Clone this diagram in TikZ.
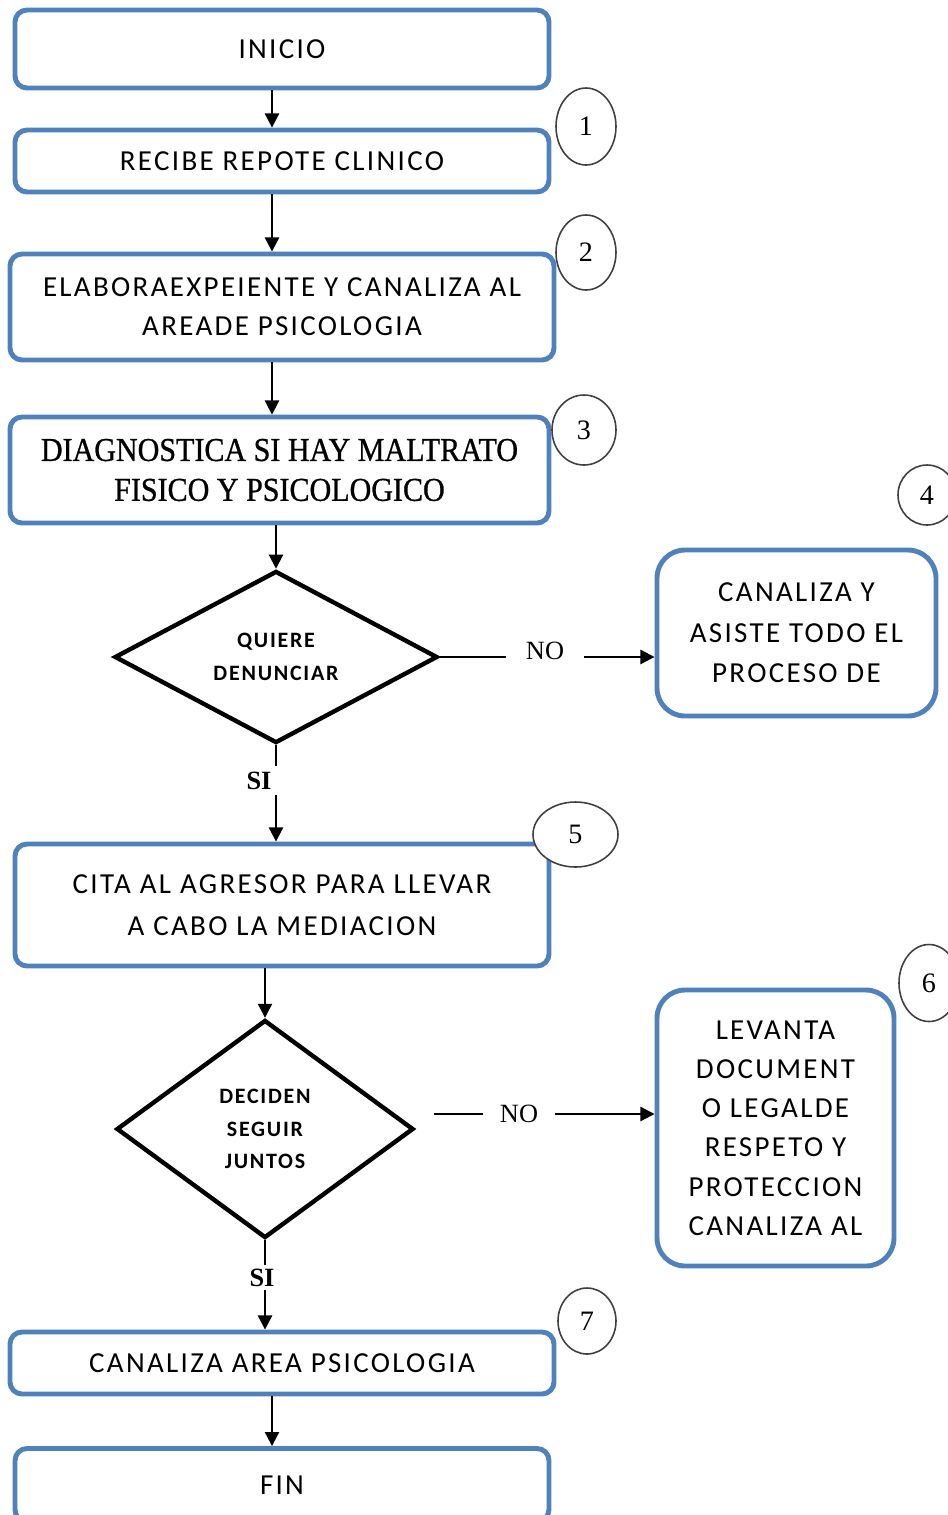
\documentclass[tikz,border=0pt]{standalone}
\usepackage{fontspec}
\setmainfont{Carlito}
\newfontfamily\boxfont[LetterSpace=8]{Carlito}
\newfontfamily\serfont{Liberation Serif}
\newfontfamily\diagfont[FakeStretch=0.9,FakeBold=0.8]{Liberation Serif}
\usepackage{tikz}
\usetikzlibrary{arrows.meta,shapes.geometric}
\definecolor{boxblue}{RGB}{79,129,189}
\definecolor{numgray}{RGB}{64,64,64}

\begin{document}
\begin{tikzpicture}[>={Triangle[length=8pt,width=8pt]}]
  \tikzstyle{box}=[draw=boxblue,line width=2.8pt,rounded corners=0.24cm,fill=white,align=center,inner sep=0pt,font={\boxfont\fontsize{16.5}{22}\selectfont}]
  \tikzstyle{tallbox}=[box,rounded corners=0.56cm]
  \tikzstyle{choice}=[draw,diamond,line width=2.5pt,align=center,inner sep=0pt,font={\boxfont\bfseries\fontsize{12.5}{18.5}\selectfont}]
  \tikzstyle{num}=[draw=numgray,fill=white,ellipse,line width=0.9pt,inner sep=0pt,font={\serfont\fontsize{16}{16}\selectfont}]
  \tikzstyle{lbl}=[inner xsep=0.4cm,inner ysep=0pt,font={\serfont\fontsize{15}{15}\selectfont}]
  \tikzstyle{arr}=[->,line width=1.2pt]
  \tikzstyle{ln}=[line width=1.2pt]
  \useasboundingbox (0,0) rectangle (18.96,-30.30);
  \clip (0,0) rectangle (18.96,-30.30);
  % main column
  \node[box,minimum width=10.68cm,minimum height=1.56cm] (inicio) at (5.64,-0.98) {INICIO};
  \node[box,minimum width=10.68cm,minimum height=1.24cm] (recibe) at (5.64,-3.22) {RECIBE REPOTE CLINICO};
  \node[box,minimum width=10.88cm,minimum height=2.12cm] (elabora) at (5.64,-6.14) {ELABORAEXPEIENTE Y CANALIZA AL\\AREADE PSICOLOGIA};
  \node[box,minimum width=10.78cm,minimum height=2.12cm,font={\diagfont\fontsize{19}{22.7}\selectfont}] (diag) at (5.59,-9.40) {DIAGNOSTICA SI HAY MALTRATO\\FISICO Y PSICOLOGICO};
  \node[choice,minimum width=6.46cm,minimum height=3.18cm] (q) at (5.52,-13.14) {QUIERE\\DENUNCIAR};
  \node[tallbox,minimum width=5.58cm,minimum height=3.32cm,font={\boxfont\fontsize{16.5}{23}\selectfont}] (canal) at (15.93,-12.66) {CANALIZA Y\\ASISTE TODO EL\\PROCESO DE};
  \node[box,minimum width=10.68cm,minimum height=2.44cm,font={\boxfont\fontsize{16.5}{23.8}\selectfont}] (cita) at (5.64,-18.10) {CITA AL AGRESOR PARA LLEVAR\\A CABO LA MEDIACION};
  \node[choice,minimum width=5.94cm,minimum height=4.36cm] (dec) at (5.30,-22.58) {DECIDEN\\SEGUIR\\JUNTOS};
  \node[tallbox,minimum width=4.74cm,minimum height=5.52cm,font={\boxfont\fontsize{16.5}{22.3}\selectfont}] (levanta) at (15.51,-22.56) {LEVANTA\\DOCUMENT\\O LEGALDE\\RESPETO Y\\PROTECCION\\CANALIZA AL};
  \node[box,minimum width=10.88cm,minimum height=1.24cm] (canaliza) at (5.64,-27.26) {CANALIZA AREA PSICOLOGIA};
  \node[box,minimum width=10.68cm,minimum height=1.46cm] (fin) at (5.64,-29.70) {FIN};
  % step numbers
  \node[num,minimum width=1.2cm,minimum height=1.54cm] (n1) at (11.72,-2.53) {1};
  \node[num,minimum width=1.2cm,minimum height=1.5cm] (n2) at (11.72,-5.05) {2};
  \node[num,minimum width=1.28cm,minimum height=1.4cm] (n3) at (11.68,-8.60) {3};
  \node[num,minimum width=1.16cm,minimum height=1.2cm] (n4) at (18.54,-9.90) {4};
  \node[num,minimum width=1.7cm,minimum height=1.3cm] (n5) at (11.51,-16.69) {5};
  \node[num,minimum width=1.2cm,minimum height=1.54cm] (n6) at (18.58,-19.66) {6};
  \node[num,minimum width=1.16cm,minimum height=1.32cm] (n7) at (11.74,-26.42) {7};
  % branch labels
  \node[lbl] (no1) at (10.90,-13.02) {NO};
  \node[lbl,inner xsep=0.34cm] (no2) at (10.38,-22.28) {NO};
  \node[lbl,inner ysep=0.1cm,font={\serfont\bfseries\fontsize{15}{15}\selectfont}] (si1) at (5.18,-15.61) {SI};
  \node[lbl,inner ysep=0.065cm,font={\serfont\bfseries\fontsize{15}{15}\selectfont}] (si2) at (5.24,-25.55) {SI};
  \coordinate (spine) at (5.44,0);
  \coordinate (nostart) at (8.68,-22.28);
  % connectors
  \draw[arr] (inicio.south -| spine) -- (recibe.north -| spine);
  \draw[arr] (recibe.south -| spine) -- (elabora.north -| spine);
  \draw[arr] (elabora.south -| spine) -- (diag.north -| spine);
  \draw[arr] (diag.south -| q.north) -- (q.north);
  \draw[ln] (q.east) -- (q.east -| no1.west);
  \draw[arr] (q.east -| no1.east) -- (q.east -| canal.west);
  \draw[ln] (q.south) -- (q.south |- si1.north);
  \draw[arr] (q.south |- si1.south) -- (q.south |- cita.north);
  \draw[arr] (cita.south -| dec.north) -- (dec.north);
  \draw[ln] (nostart) -- (no2.west);
  \draw[arr] (no2.east) -- (no2 -| levanta.west);
  \draw[ln] (dec.south) -- (dec.south |- si2.north);
  \draw[arr] (dec.south |- si2.south) -- (dec.south |- canaliza.north);
  \draw[arr] (canaliza.south -| spine) -- (fin.north -| spine);
\end{tikzpicture}
\end{document}
